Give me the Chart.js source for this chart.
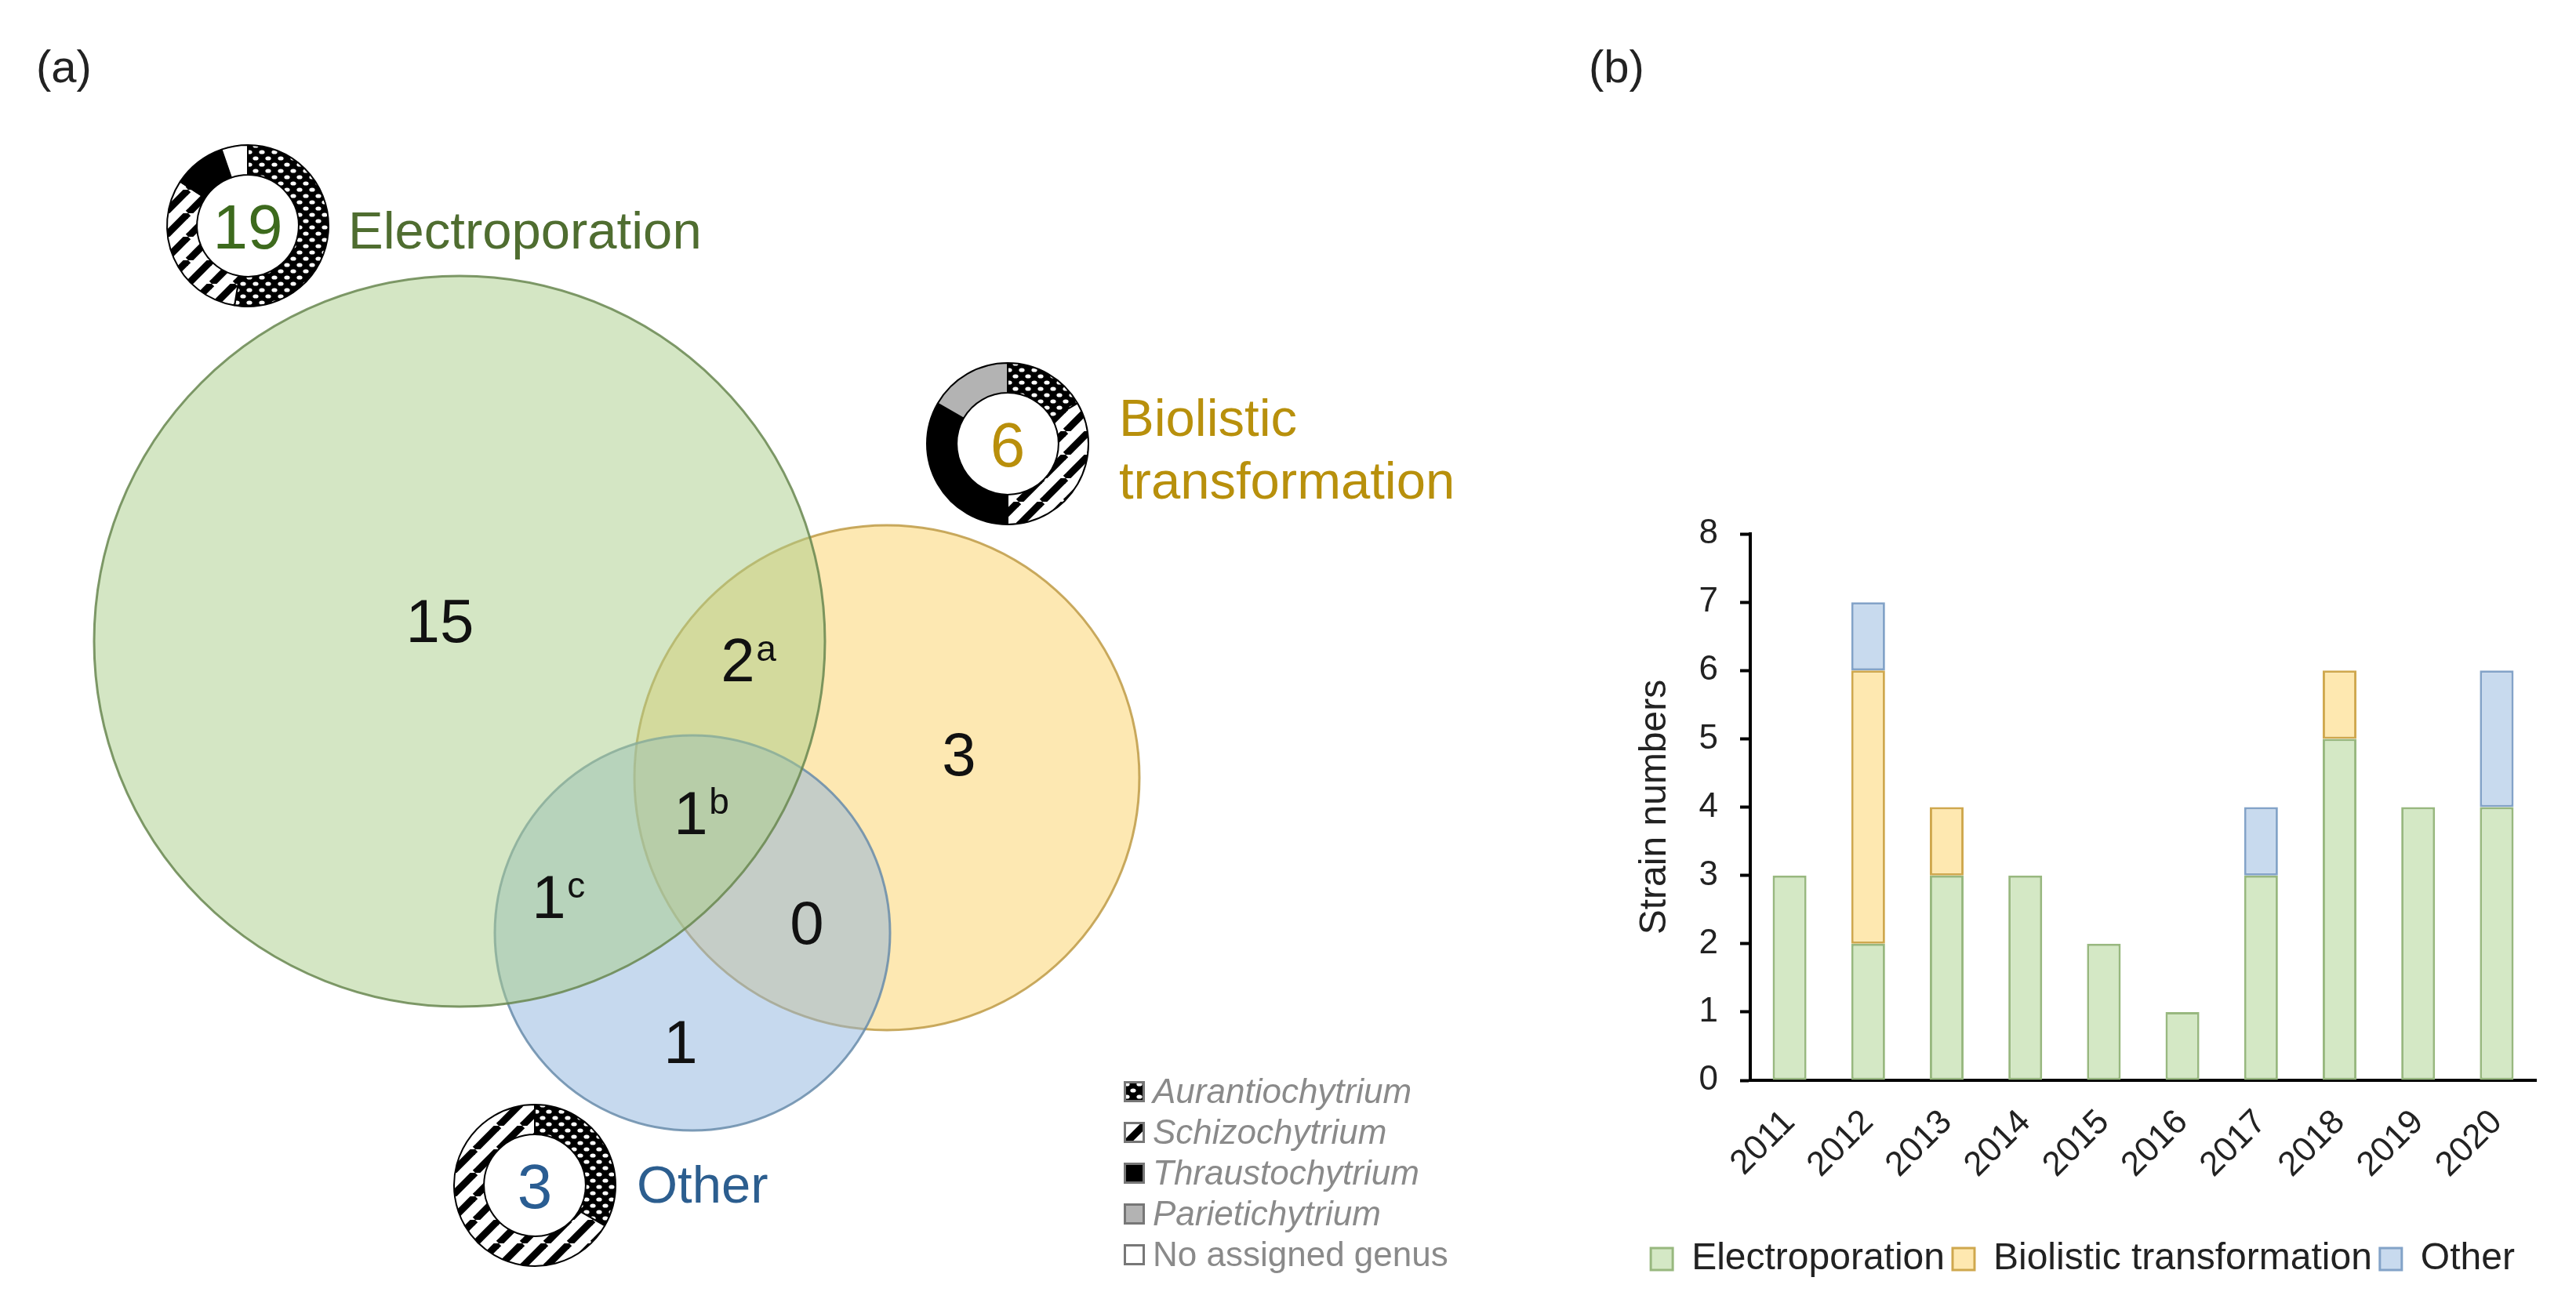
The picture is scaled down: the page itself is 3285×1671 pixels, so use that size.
<!DOCTYPE html>
<html>
<head>
<meta charset="utf-8">
<title>Thraustochytrid transformation methods</title>
<script src="https://cdn.jsdelivr.net/npm/chart.js@4.4.1/dist/chart.umd.min.js"></script>
<style>
  body { margin: 0; width: 3285px; height: 1671px; background: #fff; position: relative; overflow: hidden;
         font-family: "Liberation Sans", Arial, sans-serif; }
  canvas { position: absolute; }
  .txt { position: absolute; white-space: nowrap; }
  .panel { font-size: 58px; line-height: 58px; color: #222; }
  .method { font-size: 67px; line-height: 80px; }
  #genusLegend { position: absolute; left: 1433px; top: 1366px; font-size: 44px; color: #8a8a8a; }
  #genusLegend div { height: 52px; display: flex; align-items: center; }
  #genusLegend canvas { position: static; width: 27px; height: 27px; margin-right: 10px; }
</style>
</head>
<body>
<div class="txt panel" style="left:46px; top:56px;">(a)</div>
<div class="txt panel" style="left:2026px; top:56px;">(b)</div>

<canvas id="venn" width="2000" height="1671" style="left:0; top:0;"></canvas>
<canvas id="ring0" width="212" height="212" style="left:210px; top:182px;"></canvas>
<canvas id="ring1" width="212" height="212" style="left:1179px; top:460px;"></canvas>
<canvas id="ring2" width="212" height="212" style="left:576px; top:1406px;"></canvas>

<div class="txt method" style="left:444px; top:254px; color:#4f6d30;">Electroporation</div>
<div class="txt method" style="left:1427px; top:493px; color:#b8900c;">Biolistic<br>transformation</div>
<div class="txt method" style="left:812px; top:1471px; color:#2c5e8f;">Other</div>

<div id="genusLegend"></div>

<canvas id="bars" width="1285" height="1071" style="left:2000px; top:600px;"></canvas>

<script>
// ---- data ----
const methods = ['Electroporation', 'Biolistic transformation', 'Other'];
const methodTotals = [19, 6, 3];

// Venn regions: E only, B only, O only, E+B, E+O, B+O, E+B+O
const regionCounts = [15, 3, 1, 2, 1, 0, 1];
const regionNotes = ['', '', '', 'a', 'c', '', 'b'];

const genera = ['Aurantiochytrium', 'Schizochytrium', 'Thraustochytrium', 'Parietichytrium', 'No assigned genus'];
const generaElectro = [10, 6, 2, 0, 1];
const generaBiolistic = [1, 2, 2, 1, 0];
const generaOther = [1, 2, 0, 0, 0];

const years = ['2011', '2012', '2013', '2014', '2015', '2016', '2017', '2018', '2019', '2020'];
const electroporation = [3, 2, 3, 3, 2, 1, 3, 5, 4, 4];
const biolistic = [0, 4, 1, 0, 0, 0, 0, 1, 0, 0];
const otherMethod = [0, 1, 0, 0, 0, 0, 1, 0, 0, 2];
const strainTicks = [0, 1, 2, 3, 4, 5, 6, 7, 8];

// ---- layout of the Venn (page units) ----
const circleCentre = [[586, 818], [1131, 992], [883, 1190]];
const circleRadius = [466, 322, 252];
const regionAnchor = [[561, 791], [1223, 961], [868, 1328], [941, 841], [700, 1143], [1029, 1176], [881, 1036]];

const FONT = '"Liberation Sans", Arial, sans-serif';
Chart.defaults.font.family = FONT;
Chart.defaults.color = '#222';

// fill patterns for the genus rings
function dotPattern(g0) {
  const s = 16;
  const t = document.createElement('canvas');
  t.width = s; t.height = s;
  const g = t.getContext('2d');
  g.fillStyle = '#000'; g.fillRect(0, 0, s, s);
  g.fillStyle = '#fff';
  [[4, 4], [12, 12]].forEach(([cx, cy]) => {
    g.beginPath(); g.ellipse(cx, cy, 3.6, 2.6, 0, 0, Math.PI * 2); g.fill();
  });
  return g0.createPattern(t, 'repeat');
}
function stripePattern(g0) {
  const s = 30;
  const t = document.createElement('canvas');
  t.width = s; t.height = s;
  const g = t.getContext('2d');
  g.fillStyle = '#fff'; g.fillRect(0, 0, s, s);
  g.strokeStyle = '#000'; g.lineWidth = 9;
  for (const k of [-s, 0, s]) { g.beginPath(); g.moveTo(k, s); g.lineTo(k + s, 0); g.stroke(); }
  return g0.createPattern(t, 'repeat');
}
function genusFills(g) {
  return [dotPattern(g), stripePattern(g), '#000', '#b3b3b3', '#fff'];
}

// ---- (a) Venn diagram ----
const vennFill = ['rgba(169,205,137,0.5)', 'rgba(251,209,101,0.5)', 'rgba(141,179,221,0.5)'];
const vennEdge = ['rgba(105,135,80,0.85)', 'rgba(190,155,70,0.85)', 'rgba(105,140,170,0.85)'];
const vennOrder = [0, 2, 1];

const regionLabels = {
  id: 'regionLabels',
  afterDatasetsDraw(chart) {
    const {ctx, scales: {x, y}} = chart;
    ctx.save();
    ctx.fillStyle = '#111';
    ctx.textBaseline = 'alphabetic';
    regionCounts.forEach((n, i) => {
      const px = x.getPixelForValue(regionAnchor[i][0]);
      const py = y.getPixelForValue(regionAnchor[i][1]);
      ctx.font = '78px ' + FONT;
      ctx.textAlign = 'center';
      const base = py + 0.358 * 78;
      ctx.fillText(String(n), px, base);
      if (regionNotes[i]) {
        const inkRight = ctx.measureText(String(n)).actualBoundingBoxRight;
        ctx.font = '46px ' + FONT;
        ctx.textAlign = 'left';
        ctx.fillText(regionNotes[i], px + inkRight + 5, base - 26);
      }
    });
    ctx.restore();
  }
};

new Chart(document.getElementById('venn'), {
  type: 'scatter',
  data: {
    datasets: methods.map((name, i) => ({
      label: name,
      data: [{x: circleCentre[i][0], y: circleCentre[i][1]}],
      pointRadius: c => c.chart.scales.x.getPixelForValue(circleRadius[i]) - c.chart.scales.x.getPixelForValue(0),
      pointBackgroundColor: vennFill[i],
      pointBorderColor: vennEdge[i],
      pointBorderWidth: 3,
      order: vennOrder[i],
      clip: false
    }))
  },
  options: {
    responsive: false,
    animation: false,
    events: [],
    layout: {padding: 0},
    scales: {
      x: {type: 'linear', min: 0, max: 2000, display: false},
      y: {type: 'linear', min: 0, max: 1671, reverse: true, display: false}
    },
    plugins: {legend: {display: false}, tooltip: {enabled: false}}
  },
  plugins: [regionLabels]
});

// ---- genus rings ----
const ringNumber = {
  id: 'ringNumber',
  afterDraw(chart, args, opts) {
    const {ctx, chartArea} = chart;
    ctx.save();
    ctx.font = '80px ' + FONT;
    ctx.fillStyle = opts.color;
    ctx.textAlign = 'center';
    ctx.textBaseline = 'alphabetic';
    ctx.fillText(opts.text, (chartArea.left + chartArea.right) / 2, (chartArea.top + chartArea.bottom) / 2 + 0.358 * 80);
    ctx.restore();
  }
};

const ringCounts = [generaElectro, generaBiolistic, generaOther];
const ringColours = ['#3d6a1d', '#b98f0b', '#2a5d92'];
ringCounts.forEach((counts, i) => {
  const el = document.getElementById('ring' + i);
  const fills = genusFills(el.getContext('2d'));
  const keep = counts.map((v, k) => k).filter(k => counts[k] > 0);
  new Chart(el, {
    type: 'doughnut',
    data: {
      labels: keep.map(k => genera[k]),
      datasets: [{
        data: keep.map(k => counts[k]),
        backgroundColor: keep.map(k => fills[k]),
        borderColor: '#000',
        borderWidth: 2
      }]
    },
    options: {
      responsive: false,
      animation: false,
      events: [],
      cutout: '63%',
      layout: {padding: 2},
      plugins: {
        legend: {display: false},
        tooltip: {enabled: false},
        ringNumber: {text: String(methodTotals[i]), color: ringColours[i]}
      }
    },
    plugins: [ringNumber]
  });
});

// genus key
const key = document.getElementById('genusLegend');
genera.forEach((name, k) => {
  const row = document.createElement('div');
  const sw = document.createElement('canvas');
  sw.width = 27; sw.height = 27;
  const g = sw.getContext('2d');
  g.fillStyle = genusFills(g)[k];
  g.fillRect(0, 0, 27, 27);
  g.strokeStyle = '#777'; g.lineWidth = 3;
  g.strokeRect(1.5, 1.5, 24, 24);
  const span = document.createElement('span');
  span.textContent = name;
  if (k < 4) span.style.fontStyle = 'italic';
  row.appendChild(sw); row.appendChild(span);
  key.appendChild(row);
});

// ---- (b) stacked bars per year ----
const barFill = ['#d4e8c5', '#fee8b0', '#c8daee'];
const barEdge = ['#98b87f', '#cfa84e', '#83a3c8'];
const barSeries = [electroporation, biolistic, otherMethod];

new Chart(document.getElementById('bars'), {
  type: 'bar',
  data: {
    labels: years,
    datasets: methods.map((name, i) => ({
      label: name,
      data: barSeries[i].map(v => v || null),
      backgroundColor: barFill[i],
      borderColor: barEdge[i],
      borderWidth: 3,
      borderSkipped: false,
      barPercentage: 0.43,
      categoryPercentage: 1
    }))
  },
  options: {
    responsive: false,
    animation: false,
    events: [],
    layout: {padding: {left: 78, top: 81, right: 51, bottom: 31}},
    scales: {
      x: {
        stacked: true,
        grid: {display: false, drawTicks: false},
        border: {display: true, color: '#000', width: 4},
        ticks: {font: {size: 44}, color: '#222', maxRotation: 45, minRotation: 45, padding: 28},
        afterFit: s => { s.height = 194; }
      },
      y: {
        stacked: true,
        min: 0,
        max: 8,
        afterBuildTicks: s => { s.ticks = strainTicks.map(v => ({value: v})); },
        grid: {display: true, drawOnChartArea: false, drawTicks: true, tickLength: 13, tickWidth: 4, color: '#000'},
        border: {display: true, color: '#000', width: 4},
        ticks: {font: {size: 44}, color: '#222', padding: 28},
        title: {display: true, text: 'Strain numbers', font: {size: 48}, color: '#222'},
        afterFit: s => { s.width = 154; }
      }
    },
    plugins: {
      tooltip: {enabled: false},
      legend: {
        position: 'bottom',
        labels: {boxWidth: 28, boxHeight: 28, padding: 10, font: {size: 48}, color: '#222'}
      }
    }
  }
});
</script>
</body>
</html>
